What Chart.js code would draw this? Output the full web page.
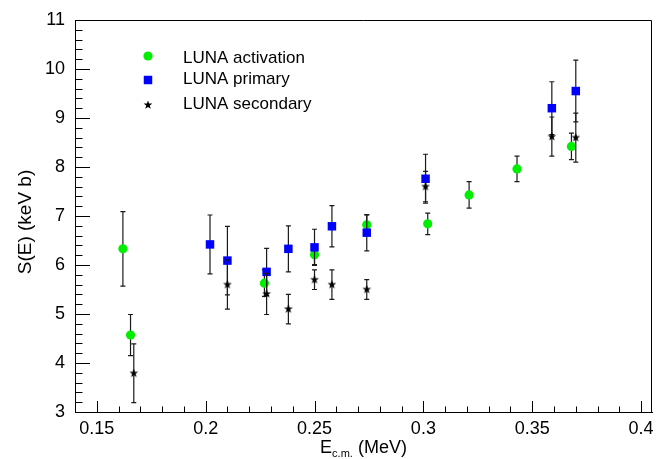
<!DOCTYPE html>
<html>
<head>
<meta charset="utf-8">
<script src="https://cdn.jsdelivr.net/npm/chart.js@4.4.1/dist/chart.umd.min.js"></script>
<style>
  html, body { margin: 0; padding: 0; background: #fff; overflow: hidden; }
  canvas { display: block; }
</style>
</head>
<body>
<canvas id="sFactorChart" width="658" height="459"></canvas>
<script>
// S-factor measurements (E in MeV, S and errors in keV b)
const activationE   = [0.162, 0.1655, 0.227, 0.250, 0.274, 0.302, 0.321, 0.343, 0.368];
const activationS   = [6.33, 4.57, 5.63, 6.21, 6.82, 6.84, 7.43, 7.96, 8.42];
const activationErr = [0.76, 0.42, 0.27, 0.20, 0.20, 0.22, 0.27, 0.26, 0.27];

const primaryE   = [0.202, 0.210, 0.228, 0.238, 0.250, 0.258, 0.274, 0.301, 0.359, 0.370];
const primaryS   = [6.42, 6.09, 5.86, 6.33, 6.36, 6.79, 6.66, 7.76, 9.20, 9.55];
const primaryErr = [0.60, 0.70, 0.48, 0.47, 0.37, 0.42, 0.37, 0.50, 0.54, 0.63];

const secondaryE   = [0.167, 0.210, 0.228, 0.238, 0.250, 0.258, 0.274, 0.301, 0.359, 0.370];
const secondaryS   = [3.79, 5.60, 5.41, 5.10, 5.70, 5.60, 5.50, 7.60, 8.62, 8.60];
const secondaryErr = [0.60, 0.50, 0.42, 0.30, 0.20, 0.30, 0.20, 0.31, 0.40, 0.50];

const seriesNames = ['LUNA activation', 'LUNA primary', 'LUNA secondary'];

const xTickValues = [0.15, 0.2, 0.25, 0.3, 0.35, 0.4];
const xTickLabels = ['0.15', '0.2', '0.25', '0.3', '0.35', '0.4'];
const yTickValues = [3, 4, 5, 6, 7, 8, 9, 10, 11];
const yTickLabels = ['3', '4', '5', '6', '7', '8', '9', '10', '11'];

const FONT = '"Liberation Sans", Arial, Helvetica, sans-serif';

// filled five-point star used as the marker of the secondary series
function makeStar(outer, inner) {
    const size = Math.ceil(outer * 2) + 2;
    const c = document.createElement('canvas');
    c.width = size;
    c.height = size;
    const g = c.getContext('2d');
    g.translate(size / 2, size / 2);
    g.beginPath();
    for (let i = 0; i < 10; i++) {
        const r = i % 2 === 0 ? outer : inner;
        const a = -Math.PI / 2 + i * Math.PI / 5;
        g.lineTo(r * Math.cos(a), r * Math.sin(a));
    }
    g.closePath();
    g.fillStyle = '#000';
    g.fill();
    return c;
}
const starImg = makeStar(4.6, 1.9);

function toPoints(xs, ys) {
    return xs.map((x, i) => ({ x: x, y: ys[i] }));
}

// top/right frame lines and inward major/minor ticks, drawn under the markers
const frameTicks = {
    id: 'frameTicks',
    beforeDatasetsDraw(chart) {
        const c = chart.ctx;
        const sx = chart.scales.x;
        const sy = chart.scales.y;
        const L = sx.left, R = sx.right, T = sy.top, B = sy.bottom;
        c.save();
        c.strokeStyle = '#000';
        c.lineWidth = 1;
        c.beginPath();
        c.moveTo(L, T + 0.5);
        c.lineTo(R - 0.5, T + 0.5);
        c.lineTo(R - 0.5, B);
        // x: minor every 0.01, major every 0.05
        for (let k = 14; k <= 40; k++) {
            const px = Math.round(sx.getPixelForValue(k / 100)) + 0.5;
            const len = k % 5 === 0 ? 11 : 5.5;
            c.moveTo(px, B);
            c.lineTo(px, B - len);
        }
        // y: minor every 0.2, major every 1
        for (let k = 15; k <= 55; k++) {
            const py = Math.round(sy.getPixelForValue(k / 5)) + 0.5;
            const len = k % 5 === 0 ? 15 : 7.5;
            c.moveTo(L, py);
            c.lineTo(L + len, py);
        }
        c.stroke();
        c.restore();
    }
};

// vertical error bars with small end caps, drawn just before each series' markers
const errorBars = {
    id: 'errorBars',
    beforeDatasetDraw(chart, args) {
        const ds = chart.data.datasets[args.index];
        if (!ds.errors) return;
        const yScale = chart.scales.y;
        const c = chart.ctx;
        c.save();
        c.strokeStyle = '#1a1a1a';
        c.lineWidth = 1.2;
        args.meta.data.forEach((pt, i) => {
            const v = ds.data[i].y;
            const e = ds.errors[i];
            const x = pt.x;
            const top = yScale.getPixelForValue(v + e);
            const bot = yScale.getPixelForValue(v - e);
            c.beginPath();
            c.moveTo(x, top);
            c.lineTo(x, bot);
            c.moveTo(x - 2.5, top);
            c.lineTo(x + 2.5, top);
            c.moveTo(x - 2.5, bot);
            c.lineTo(x + 2.5, bot);
            c.stroke();
        });
        c.restore();
    }
};

// axis titles (x title has a subscript) and the legend box
const annotations = {
    id: 'annotations',
    afterDraw(chart) {
        const c = chart.ctx;
        const sx = chart.scales.x;
        c.save();
        c.fillStyle = '#000';
        c.textBaseline = 'alphabetic';

        // x title: E_c.m. (MeV)
        const big = '18px ' + FONT;
        const small = '11px ' + FONT;
        c.font = big;
        const wE = c.measureText('E').width;
        const wRest = c.measureText(' (MeV)').width;
        c.font = small;
        const wSub = c.measureText('c.m.').width;
        let x = (sx.left + sx.right) / 2 - (wE + wSub + wRest) / 2;
        const base = 453;
        c.font = big;
        c.fillText('E', x, base);
        x += wE;
        c.font = small;
        c.fillText('c.m.', x, base + 4);
        x += wSub;
        c.font = big;
        c.fillText(' (MeV)', x, base);

        // y title
        c.save();
        c.translate(31, 222);
        c.rotate(-Math.PI / 2);
        c.textAlign = 'center';
        c.font = '19px ' + FONT;
        c.fillText('S(E) (keV b)', 0, 0);
        c.restore();

        // legend
        const markY = [56, 80, 105];
        const textY = [58, 79, 104];
        const mx = 148;
        c.font = '17px ' + FONT;
        c.textBaseline = 'middle';
        chart.data.datasets.forEach((ds, i) => {
            const y = markY[i];
            if (ds.pointStyle === 'circle') {
                c.beginPath();
                c.arc(mx, y, ds.pointRadius, 0, Math.PI * 2);
                c.fillStyle = ds.backgroundColor;
                c.fill();
            } else if (ds.pointStyle === 'rect') {
                const h = Math.SQRT1_2 * ds.pointRadius;
                c.fillStyle = ds.backgroundColor;
                c.fillRect(mx - h, y - h, 2 * h, 2 * h);
            } else {
                c.drawImage(starImg, mx - starImg.width / 2, y - starImg.height / 2);
            }
            c.fillStyle = '#000';
            c.fillText(seriesNames[i], 183, textY[i]);
        });
        c.restore();
    }
};

const ctx = document.getElementById('sFactorChart').getContext('2d');
new Chart(ctx, {
    type: 'scatter',
    data: {
        datasets: [
            {
                label: seriesNames[0],
                data: toPoints(activationE, activationS),
                errors: activationErr,
                pointStyle: 'circle',
                pointRadius: 4.6,
                backgroundColor: '#00ee00',
                borderColor: '#00ee00',
                borderWidth: 0,
                order: 3
            },
            {
                label: seriesNames[1],
                data: toPoints(primaryE, primaryS),
                errors: primaryErr,
                pointStyle: 'rect',
                pointRadius: 6,
                backgroundColor: '#0000ff',
                borderColor: '#0000ff',
                borderWidth: 0,
                order: 2
            },
            {
                label: seriesNames[2],
                data: toPoints(secondaryE, secondaryS),
                errors: secondaryErr,
                pointStyle: starImg,
                pointRadius: 5,
                backgroundColor: '#000',
                borderColor: '#000',
                borderWidth: 0,
                order: 1
            }
        ]
    },
    options: {
        responsive: false,
        animation: false,
        devicePixelRatio: 1,
        layout: { padding: { top: 20, right: -2, left: 0, bottom: 0 } },
        plugins: {
            legend: { display: false },
            tooltip: { enabled: false }
        },
        elements: { point: { hoverRadius: 0 } },
        scales: {
            x: {
                type: 'linear',
                min: 0.14,
                max: 0.405,
                grid: { display: false, drawTicks: false },
                border: { display: true, color: '#000', width: 1 },
                afterBuildTicks: (scale) => { scale.ticks = xTickValues.map(v => ({ value: v })); },
                ticks: {
                    autoSkip: false,
                    maxRotation: 0,
                    padding: 6,
                    color: '#000',
                    font: { family: FONT, size: 18 },
                    callback: (value, index) => xTickLabels[index]
                },
                afterFit: (scale) => { scale.height = 47; scale.paddingLeft = 0; scale.paddingRight = 0; }
            },
            y: {
                type: 'linear',
                min: 3,
                max: 11,
                grid: { display: false, drawTicks: false },
                border: { display: true, color: '#000', width: 1 },
                afterBuildTicks: (scale) => { scale.ticks = yTickValues.map(v => ({ value: v })); },
                ticks: {
                    autoSkip: false,
                    padding: 10,
                    color: '#000',
                    font: { family: FONT, size: 18 },
                    callback: (value, index) => yTickLabels[index]
                },
                afterFit: (scale) => { scale.width = 75; scale.paddingTop = 0; scale.paddingBottom = 0; }
            }
        }
    },
    plugins: [frameTicks, errorBars, annotations]
});
</script>
</body>
</html>
